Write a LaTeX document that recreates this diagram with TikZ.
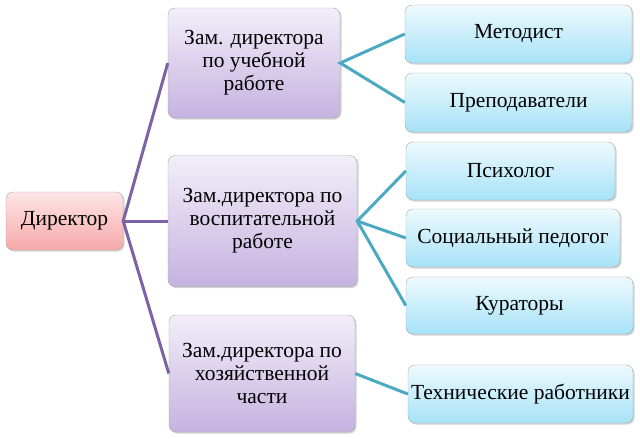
\documentclass[tikz,border=0pt]{standalone}
\usepackage{fontspec}
\setmainfont{LiberationSerif}[Extension=.ttf, UprightFont=*-Regular, BoldFont=*-Bold]
\usetikzlibrary{shadows}

\definecolor{dirtop}{HTML}{FDE6E6}
\definecolor{dirbot}{HTML}{F7A9A9}
\definecolor{deptop}{HTML}{F3EEF9}
\definecolor{depbot}{HTML}{C5B3E0}
\definecolor{subtop}{HTML}{EEFAFE}
\definecolor{subbot}{HTML}{A6E2F7}
\definecolor{purpleline}{HTML}{7B63A6}
\definecolor{tealline}{HTML}{4BAAC2}

\begin{document}
\begin{tikzpicture}[x=1pt, y=-1pt,
    font=\rmfamily\fontsize{21.5}{23}\selectfont,
    box/.style={draw=gray!70, rounded corners=7pt, align=center, inner sep=2pt,
        drop shadow={shadow xshift=1.5pt, shadow yshift=-1.5pt, opacity=0.35}},
    dirbox/.style={box, top color=dirtop, bottom color=dirbot},
    depbox/.style={box, top color=deptop, bottom color=depbot},
    subbox/.style={box, top color=subtop, bottom color=subbot},
    tolink/.style={purpleline, line width=3pt},
    sublink/.style={tealline, line width=3pt}]
        \useasboundingbox (0,0) rectangle (640,439);

        \node[dirbox, minimum width=117pt, minimum height=58pt] (dir) at (64.5,221) {Директор};

        \node[depbox, minimum width=172pt, minimum height=110pt] (dep1) at (254,63) {Зам. директора\\по учебной\\работе};
        \node[depbox, minimum width=189pt, minimum height=131pt] (dep2) at (262.5,221) {Зам.директора по\\воспитательной\\работе};
        \node[depbox, minimum width=186pt, minimum height=117pt] (dep3) at (262,373.5) {Зам.директора по\\хозяйственной\\части};

        \node[subbox, minimum width=227pt, minimum height=58pt] (metod) at (518.5,34) {Методист};
        \node[subbox, minimum width=227pt, minimum height=59pt] (prep) at (518.5,102.5) {Преподаватели};
        \node[subbox, minimum width=209pt, minimum height=58pt] (psych) at (510.5,171) {Психолог};
        \node[subbox, minimum width=214pt, minimum height=58pt] (socped) at (513,238) {Социальный педогог};
        \node[subbox, minimum width=227pt, minimum height=57pt] (kur) at (519.5,305.5) {Кураторы};
        \node[subbox, minimum width=225pt, minimum height=58pt] (tech) at (520.5,394) {Технические работники};

        % director -> deputies
        \draw[tolink] (dep1.west) -- (dir.east) -- (dep3.west);
        \draw[tolink] (dir.east) -- (dep2.west);

        % deputies -> staff
        \draw[sublink] (metod.west) -- (dep1.east) -- (prep.west);
        \draw[sublink] (psych.west) -- (dep2.east) -- (kur.west);
        \draw[sublink] (dep2.east) -- (socped.west);
        \draw[sublink] (dep3.east) -- (tech.west);
      \end{tikzpicture}
\end{document}
